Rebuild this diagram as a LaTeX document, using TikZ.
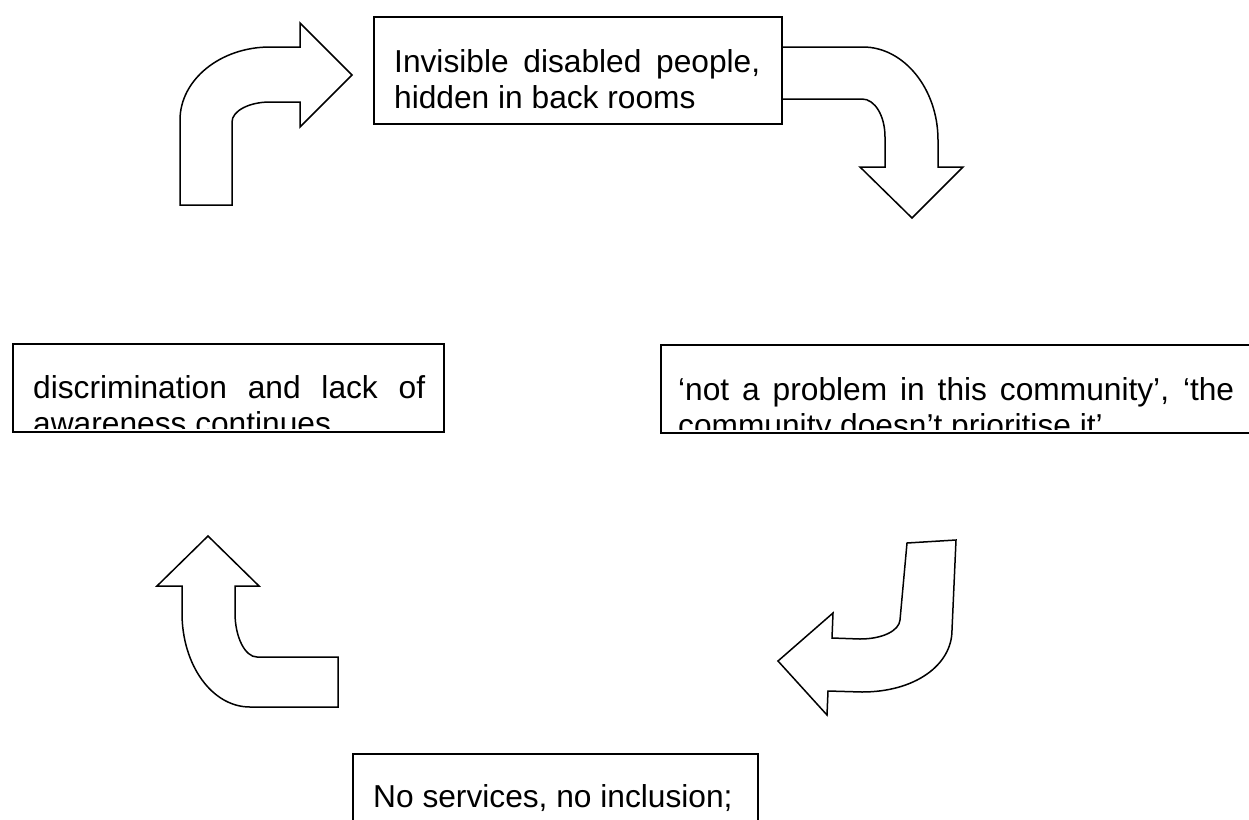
\documentclass[tikz,border=0pt]{standalone}
\usepackage{fontspec}
\setmainfont{Liberation Sans}
\begin{document}
\begin{tikzpicture}[x=1pt,y=-1pt,
  box/.style={draw=black,line width=1.5pt,fill=white,inner sep=0pt,anchor=north west},
  txt/.style={anchor=base west,inner sep=0pt,font=\fontsize{31.7pt}{36.6pt}\selectfont},
  blockarrow/.style={draw=black,fill=white,line width=1.5pt,line join=miter}]
\path[use as bounding box] (0,0) rectangle (1249,819);
% arrows
\draw[blockarrow] (180,205) -- (180,120) .. controls (180,80) and (220,47) .. (270,47)
  -- (300,47) -- (300,23) -- (352,75) -- (300,127) -- (300,102) -- (270,102)
  .. controls (249,102) and (232,111) .. (232,122) -- (232,205) -- cycle;
\draw[blockarrow] (781,47) -- (863,47) .. controls (904,47) and (938,89) .. (938,140)
  -- (938,167) -- (963,167) -- (912,218) -- (860,167) -- (885,167) -- (885,137)
  .. controls (885,116) and (875,99) .. (862,99) -- (781,99) -- cycle;
\draw[blockarrow] (182,586) -- (182,613) .. controls (182,665) and (212,707) .. (250,707)
  -- (338,707) -- (338,657) -- (257,657) .. controls (245,657) and (235,637) .. (235,613)
  -- (235,586) -- (259,586) -- (208,536) -- (157,586) -- cycle;
\draw[blockarrow] (907,543) -- (900,620) .. controls (899,631) and (882,639) .. (860,639)
  -- (832,638) -- (833,613) -- (778,661) -- (827,715) -- (828,691) -- (862,692)
  .. controls (915,692) and (952,665) .. (952,630) -- (956,540) -- cycle;
% boxes
\node[box,minimum width=408pt,minimum height=107pt] (top) at (373,16) {};
\node[txt] (toptxt) at (394,72) {\parbox[t]{366pt}{Invisible disabled people,\linebreak hidden in back rooms}};
\node[box,minimum width=431pt,minimum height=88pt] (left) at (12,343) {};
\begin{scope}
\clip (12,343) rectangle (443,428);
\node[txt] (lefttxt) at (33,398) {\parbox[t]{392pt}{discrimination and lack of\linebreak awareness continues}};
\end{scope}
\node[box,minimum width=620pt,minimum height=88pt] (right) at (660,344) {};
\begin{scope}
\clip (660,344) rectangle (1249,429);
\node[txt] (righttxt) at (678,400) {\parbox[t]{556pt}{‘not a problem in this community’, ‘the\linebreak community doesn’t prioritise it’}};
\end{scope}
\node[box,minimum width=405pt,minimum height=90pt] (bottom) at (352,753) {};
\node[txt] (bottomtxt) at (373,807) {\parbox[t]{362pt}{No services, no inclusion;}};
\end{tikzpicture}
\end{document}
